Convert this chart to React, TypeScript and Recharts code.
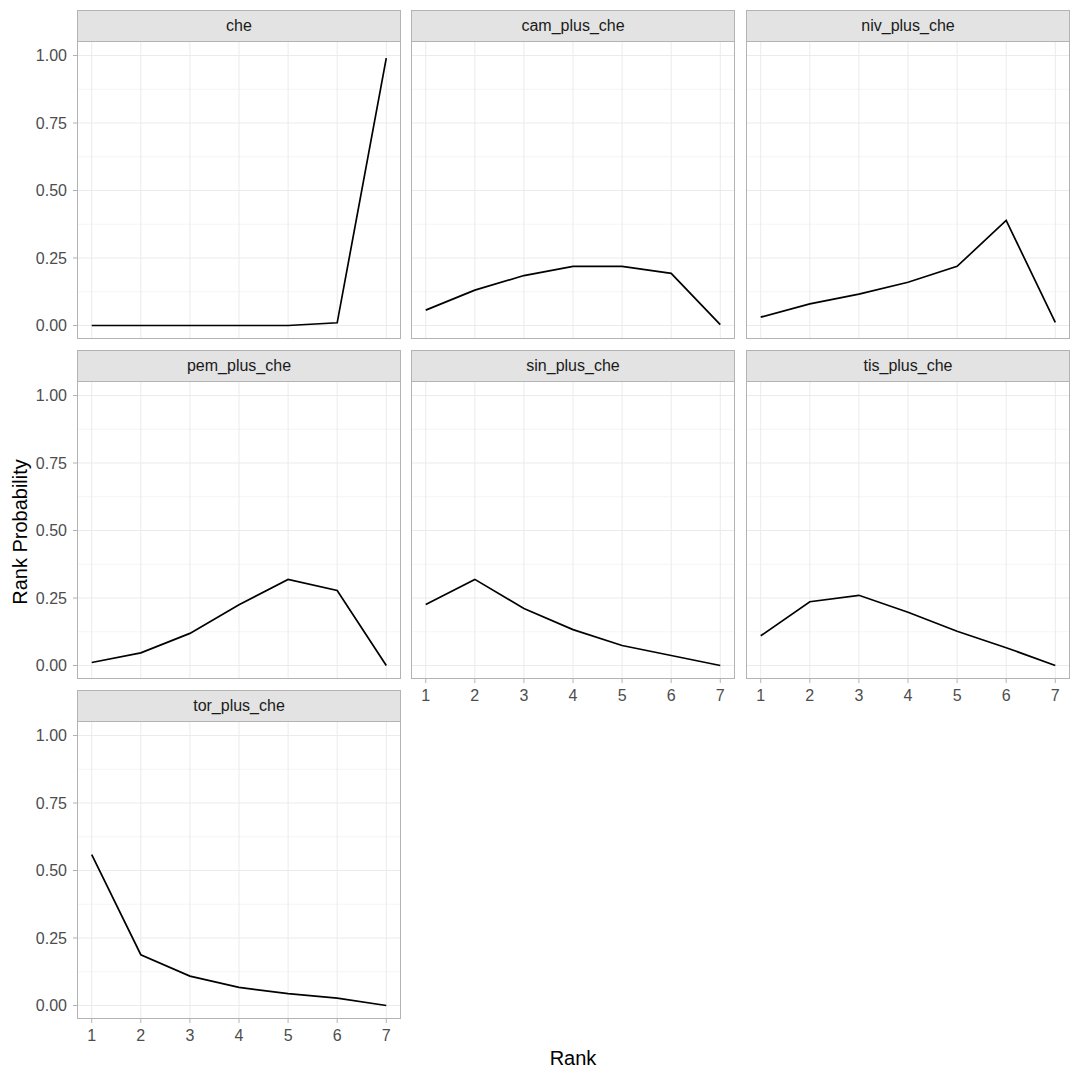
import React from 'react';
import { LineChart, Line, XAxis, YAxis, CartesianGrid } from 'recharts';

const ranks = [1, 2, 3, 4, 5, 6, 7];
const yTicks = [0, 0.25, 0.5, 0.75, 1];
const yMinor = [0.125, 0.375, 0.625, 0.875];

const che = [0, 0, 0, 0, 0, 0.01, 0.99];
const camPlusChe = [0.057, 0.131, 0.185, 0.219, 0.219, 0.193, 0.003];
const nivPlusChe = [0.031, 0.08, 0.116, 0.16, 0.219, 0.389, 0.012];
const pemPlusChe = [0.011, 0.047, 0.119, 0.225, 0.319, 0.278, 0];
const sinPlusChe = [0.226, 0.319, 0.211, 0.133, 0.074, 0.037, 0];
const tisPlusChe = [0.11, 0.236, 0.26, 0.197, 0.127, 0.066, 0];
const torPlusChe = [0.559, 0.188, 0.109, 0.067, 0.044, 0.027, 0];

const panels = [
  { title: 'che', values: che },
  { title: 'cam_plus_che', values: camPlusChe },
  { title: 'niv_plus_che', values: nivPlusChe },
  { title: 'pem_plus_che', values: pemPlusChe },
  { title: 'sin_plus_che', values: sinPlusChe },
  { title: 'tis_plus_che', values: tisPlusChe },
  { title: 'tor_plus_che', values: torPlusChe },
];

// layout (px)
const COL_LEFT = [77, 411, 746];
const ROW_TOP = [10, 350, 690];
const PLOT_W = 324;
const PLOT_H = 297;
const STRIP_H = 32;
const Y_AXIS_W = 77;
const X_AXIS_H = 30;

const FONT = '"Liberation Sans", Arial, sans-serif';
const BORDER = '#B3B3B3';

interface PanelProps {
  title: string;
  values: number[];
  col: number;
  row: number;
  showX: boolean;
  showY: boolean;
}

const Panel: React.FC<PanelProps> = ({ title, values, col, row, showX, showY }) => {
  const data = ranks.map((r, i) => ({ rank: r, prob: values[i] }));
  const plotLeft = COL_LEFT[col];
  const plotTop = ROW_TOP[row] + STRIP_H;
  const chartLeft = showY ? plotLeft - Y_AXIS_W : plotLeft;
  const width = PLOT_W + (showY ? Y_AXIS_W : 0);
  const height = PLOT_H + (showX ? X_AXIS_H : 0);

  return (
    <>
      <div
        style={{
          position: 'absolute',
          left: plotLeft,
          top: ROW_TOP[row],
          width: PLOT_W,
          height: STRIP_H,
          boxSizing: 'border-box',
          border: `1px solid ${BORDER}`,
          background: '#E3E3E3',
          color: '#1A1A1A',
          fontSize: 16,
          display: 'flex',
          alignItems: 'center',
          justifyContent: 'center',
        }}
      >
        {title}
      </div>
      <div style={{ position: 'absolute', left: chartLeft, top: plotTop }}>
        <LineChart width={width} height={height} data={data} margin={{ top: 0, right: 0, bottom: 0, left: 0 }}>
          <CartesianGrid stroke="#F3F3F3" strokeWidth={0.8} vertical={false} horizontalValues={yMinor} />
          <CartesianGrid stroke="#EBEBEB" strokeWidth={1} horizontalValues={yTicks} verticalValues={ranks} />
          <XAxis
            dataKey="rank"
            type="number"
            domain={[0.7, 7.3]}
            ticks={ranks}
            allowDataOverflow
            hide={!showX}
            height={X_AXIS_H}
            axisLine={false}
            tickLine={{ stroke: BORDER }}
            tickSize={4}
            tickMargin={7}
            tick={{ fill: '#4D4D4D', fontSize: 16, fontFamily: FONT }}
          />
          <YAxis
            type="number"
            domain={[-0.05, 1.05]}
            ticks={yTicks}
            allowDataOverflow
            hide={!showY}
            width={Y_AXIS_W}
            axisLine={false}
            tickLine={{ stroke: BORDER }}
            tickSize={4}
            tickMargin={6}
            tickFormatter={(v: number) => v.toFixed(2)}
            tick={{ fill: '#4D4D4D', fontSize: 16, fontFamily: FONT }}
          />
          <Line
            dataKey="prob"
            stroke="#000"
            strokeWidth={1.7}
            dot={false}
            activeDot={false}
            isAnimationActive={false}
          />
        </LineChart>
      </div>
      <div
        style={{
          position: 'absolute',
          left: plotLeft,
          top: plotTop - 1,
          width: PLOT_W,
          height: PLOT_H + 1,
          boxSizing: 'border-box',
          border: `1px solid ${BORDER}`,
          pointerEvents: 'none',
        }}
      />
    </>
  );
};

export default function App() {
  return (
    <div
      style={{
        position: 'absolute',
        left: 0,
        top: 0,
        width: 1080,
        height: 1080,
        background: '#fff',
        fontFamily: FONT,
      }}
    >
      {panels.map((p, i) => {
        const row = Math.floor(i / 3);
        const col = i % 3;
        const showX = row === 2 || (row === 1 && col > 0);
        return (
          <Panel key={p.title} title={p.title} values={p.values} col={col} row={row} showX={showX} showY={col === 0} />
        );
      })}
      <div
        style={{
          position: 'absolute',
          left: 20,
          top: 532,
          transform: 'translate(-50%, -50%) rotate(-90deg)',
          fontSize: 20,
          color: '#000',
          whiteSpace: 'nowrap',
        }}
      >
        Rank Probability
      </div>
      <div
        style={{
          position: 'absolute',
          left: 573,
          top: 1058,
          transform: 'translate(-50%, -50%)',
          fontSize: 20,
          color: '#000',
          whiteSpace: 'nowrap',
        }}
      >
        Rank
      </div>
    </div>
  );
}
